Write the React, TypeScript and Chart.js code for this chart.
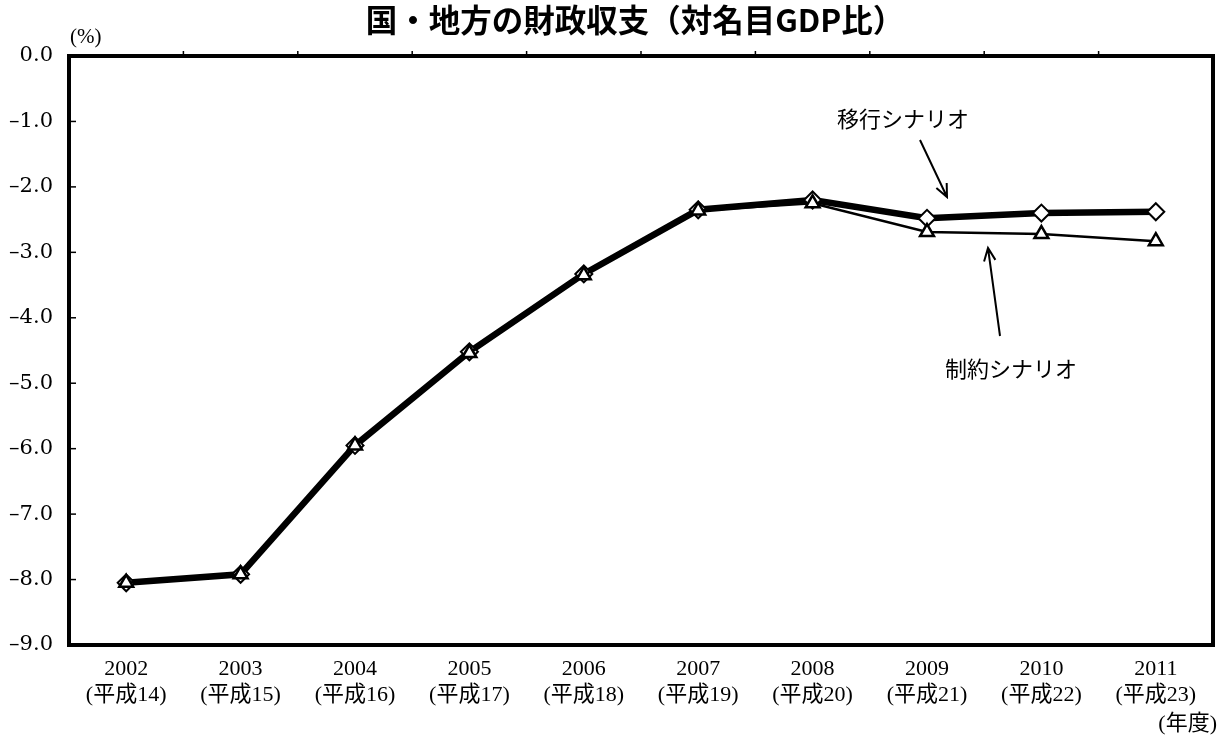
import React, { useEffect, useRef } from "react";
import { Chart, registerables } from "chart.js";

Chart.register(...registerables);

const years = ["2002", "2003", "2004", "2005", "2006", "2007", "2008", "2009", "2010", "2011"];
const heisei = ["(平成14)", "(平成15)", "(平成16)", "(平成17)", "(平成18)", "(平成19)", "(平成20)", "(平成21)", "(平成22)", "(平成23)"];
const transitionScenario = [-8.05, -7.92, -5.95, -4.52, -3.33, -2.35, -2.2, -2.48, -2.4, -2.38];
const constrainedScenario = [-8.05, -7.92, -5.95, -4.54, -3.35, -2.36, -2.25, -2.69, -2.72, -2.83];
const yMin = -9;
const yMax = 0;

const titleText = "国・地方の財政収支（対名目GDP比）";
const transitionLabel = "移行シナリオ";
const constrainedLabel = "制約シナリオ";

const SERIF = '"Liberation Serif", "Noto Sans CJK JP", serif';
const YSERIF = '"DejaVu Serif", "Liberation Serif", serif';
const SANS = '"Noto Sans CJK JP", sans-serif';

function arrow(ctx: CanvasRenderingContext2D, x1: number, y1: number, x2: number, y2: number) {
  const ang = Math.atan2(y2 - y1, x2 - x1);
  const len = 14;
  const spread = 0.42;
  ctx.beginPath();
  ctx.moveTo(x1, y1);
  ctx.lineTo(x2, y2);
  ctx.moveTo(x2 - len * Math.cos(ang - spread), y2 - len * Math.sin(ang - spread));
  ctx.lineTo(x2, y2);
  ctx.lineTo(x2 - len * Math.cos(ang + spread), y2 - len * Math.sin(ang + spread));
  ctx.stroke();
}

const overlay = {
  id: "overlay",
  beforeDatasetsDraw(chart: any) {
    const { ctx, chartArea: a, scales } = chart;
    ctx.save();
    ctx.strokeStyle = "#000";
    ctx.lineWidth = 4;
    ctx.strokeRect(a.left, a.top, a.right - a.left, a.bottom - a.top);
    ctx.lineWidth = 1.5;
    scales.y.ticks.forEach((t: any) => {
      const y = scales.y.getPixelForValue(t.value);
      ctx.beginPath();
      ctx.moveTo(a.left, y);
      ctx.lineTo(a.left + 7, y);
      ctx.stroke();
    });
    for (let k = 1; k < years.length; k++) {
      const x = (scales.x.getPixelForValue(k - 1) + scales.x.getPixelForValue(k)) / 2;
      ctx.beginPath();
      ctx.moveTo(x, a.top);
      ctx.lineTo(x, a.top - 5);
      ctx.stroke();
    }
    ctx.restore();
  },
  afterDraw(chart: any) {
    const { ctx } = chart;
    ctx.save();
    ctx.fillStyle = "#000";
    ctx.strokeStyle = "#000";
    ctx.textBaseline = "middle";
    ctx.textAlign = "center";
    ctx.font = `bold 31.5px ${SANS}`;
    ctx.fillText(titleText, 635, 20);
    ctx.textAlign = "left";
    ctx.font = `21px ${SERIF}`;
    ctx.fillText("(%)", 70, 37);
    ctx.font = `22px ${SERIF}`;
    ctx.textAlign = "right";
    ctx.fillText("(年度)", 1217, 724);
    ctx.textAlign = "center";
    ctx.font = `22px ${SANS}`;
    ctx.fillText(transitionLabel, 903, 119);
    ctx.fillText(constrainedLabel, 1011, 369);
    ctx.lineWidth = 2;
    arrow(ctx, 920, 140, 947, 197);
    arrow(ctx, 1000, 336, 988, 248);
    ctx.restore();
  },
};

export default function App() {
  const ref = useRef<HTMLCanvasElement | null>(null);
  useEffect(() => {
    if (!ref.current) return;
    const chart = new Chart(ref.current, {
      type: "line",
      data: {
        labels: years.map((y, i) => [y, heisei[i]]),
        datasets: [
          {
            label: transitionLabel,
            data: transitionScenario,
            borderColor: "#000",
            borderWidth: 6.5,
            pointStyle: "rectRot",
            pointRadius: 8.5,
            pointBorderWidth: 2,
            pointBackgroundColor: "#fff",
            pointBorderColor: "#000",
            tension: 0,
            order: 2,
          },
          {
            label: constrainedLabel,
            data: constrainedScenario,
            borderColor: "#000",
            borderWidth: 2.5,
            pointStyle: "triangle",
            pointRadius: 8,
            pointBorderWidth: 2.5,
            pointBackgroundColor: "#fff",
            pointBorderColor: "#000",
            tension: 0,
            order: 1,
          },
        ],
      },
      options: {
        responsive: true,
        maintainAspectRatio: false,
        animation: false,
        layout: { padding: { left: 0, right: 14, top: 56, bottom: 0 } },
        plugins: {
          legend: { display: false },
          title: { display: false },
          tooltip: { enabled: false },
        },
        scales: {
          x: {
            type: "category",
            offset: true,
            grid: { display: false, drawTicks: false },
            border: { display: false },
            ticks: {
              color: "#000",
              font: { family: SERIF, size: 22 },
              padding: 11,
              maxRotation: 0,
              autoSkip: false,
            },
            afterFit: (s: any) => {
              s.height = 93;
            },
          },
          y: {
            min: yMin,
            max: yMax,
            grid: { display: false, drawTicks: false },
            border: { display: false },
            ticks: {
              stepSize: 1,
              color: "#000",
              font: { family: YSERIF, size: 21 },
              padding: 16,
              callback: (v: any) => {
                const n = Number(v);
                const s = Math.abs(n).toFixed(1);
                return n < 0 ? "\u2013" + s : s;
              },
            },
            afterFit: (s: any) => {
              s.width = 69;
            },
          },
        },
      },
      plugins: [overlay],
    });
    return () => chart.destroy();
  }, []);
  return (
    <div style={{ position: "absolute", left: 0, top: 0, width: 1227, height: 738, background: "#fff" }}>
      <canvas ref={ref} />
    </div>
  );
}
